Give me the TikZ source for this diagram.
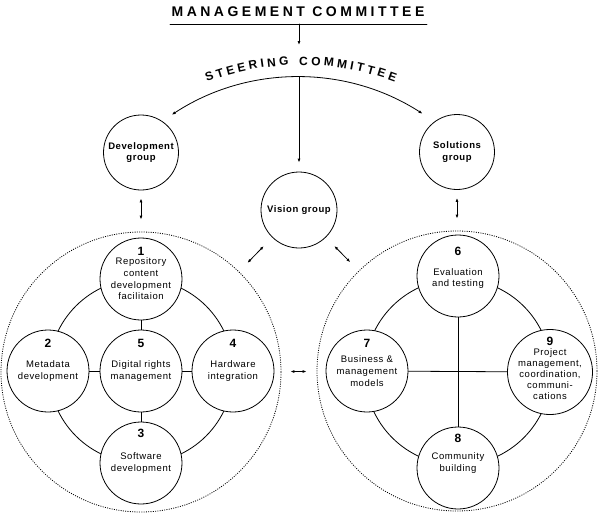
\documentclass[tikz,border=0pt]{standalone}
\usepackage{fontspec}
\setmainfont{Liberation Sans}[LetterSpace=6]
\usetikzlibrary{arrows.meta,decorations.text}
\newcommand\steerfont{\bfseries\fontsize{12}{12}\selectfont}
\begin{document}
\begin{tikzpicture}[x=1pt,y=1pt,line cap=round,>={Latex[length=4pt,width=3pt]},
  link/.style={line width=0.8pt},
  group/.style={circle,draw,link,fill=white,minimum size=75pt,inner sep=0pt,align=center,
    font=\bfseries\fontsize{9.5}{11.5}\selectfont},
  unit/.style={circle,draw,link,fill=white,minimum size=82pt,inner sep=0pt,align=center,
    font=\fontsize{9.5}{11.7}\selectfont},
  num/.style={inner sep=0pt,font=\bfseries\fontsize{12}{12}\selectfont},
  ring/.style={circle,draw,line cap=butt,dash pattern=on 1pt off 1.3pt,line width=0.8pt,
    minimum size=280pt,inner sep=0pt}]
  \useasboundingbox (0,0) rectangle (598,-525);

  % management and steering committee
  \node (mc) at (298,-12) {\bfseries\fontsize{14}{14}\selectfont\addfontfeatures{LetterSpace=25}MANAGEMENT COMMITTEE};
  \coordinate (rl) at (170,-24);
  \coordinate (rr) at (427,-24);
  \coordinate (rm) at (299,-24);
  \coordinate (mcend) at (299,-45);
  \coordinate (steer) at (299,-77);
  \draw[link] (rl) -- (rr);
  \draw[link,->] (rm) -- (mcend);
  \path[decorate,decoration={text along path,text align={fit to path},
    text={|\steerfont|STEERING COMMITTEE}}]
    (207,-82) arc[start angle=110.5,end angle=69.5,radius=268];
  \draw[link,<->] (171.7,-114.8) arc[start angle=123.3,end angle=57.2,radius=230];

  % groups
  \node[group] (dev) at (141,-152.5) {Development\\group};
  \node[group] (sol) at (457,-152) {Solutions\\group};
  \node[group,minimum size=76pt] (vis) at (299,-210) {Vision group};
  \draw[link,->,shorten >=9pt] (steer) -- (vis);

  % rings
  \draw[link] (141,-371) circle[radius=92];
  \draw[link] (458,-372) circle[radius=93];
  \node[ring] (devring) at (141,-372) {};
  \node[ring] (solring) at (457,-371) {};

  % left cluster
  \node[unit] (u1) at (141,-279) {Repository\\content\\development\\facilitaion};
  \node[unit] (u2) at (48,-371) {Metadata\\development};
  \node[unit] (u5) at (141,-371) {Digital rights\\management};
  \node[unit] (u4) at (233,-371) {Hardware\\integration};
  \node[unit] (u3) at (141,-463) {Software\\development};

  % right cluster
  \node[unit] (u6) at (458,-276) {\mbox{}\\Evaluation\\and testing};
  \node[unit] (u7) at (367,-371) {Business \&\\management\\models};
  \node[unit,font=\fontsize{9.5}{11.2}\selectfont] (u9) at (550,-372)
    {\mbox{}\\Project\\management,\\coordination,\\communi-\\cations};
  \node[unit] (u8) at (458,-468) {Community\\building\\\mbox{}};

  % numbers
  \node[num] (n1) at ([yshift=28]u1.center) {1};
  \node[num] (n2) at ([yshift=28]u2.center) {2};
  \node[num] (n3) at ([yshift=30]u3.center) {3};
  \node[num] (n4) at ([yshift=28]u4.center) {4};
  \node[num] (n5) at ([yshift=28]u5.center) {5};
  \node[num] (n6) at ([yshift=25]u6.center) {6};
  \node[num] (n7) at ([yshift=28]u7.center) {7};
  \node[num] (n8) at ([yshift=30]u8.center) {8};
  \node[num] (n9) at ([yshift=31]u9.center) {9};

  % links
  \draw[link] (u1) -- (u5);
  \draw[link] (u2) -- (u5);
  \draw[link] (u5) -- (u4);
  \draw[link] (u5) -- (u3);
  \draw[link] (u6) -- (u8);
  \draw[link] (u7) -- (u9);

  % arrows
  \draw[link,<->,shorten <=8pt,shorten >=12pt] (dev) -- (devring);
  \draw[link,<->,shorten <=8pt,shorten >=12pt] (sol) -- (solring);
  \draw[link,<->,shorten <=12pt,shorten >=12pt] (vis) -- (devring);
  \draw[link,<->,shorten <=12pt,shorten >=12pt] (vis) -- (solring);
  \draw[link,<->,shorten <=9pt,shorten >=10pt] (devring) -- (solring);
\end{tikzpicture}
\end{document}
